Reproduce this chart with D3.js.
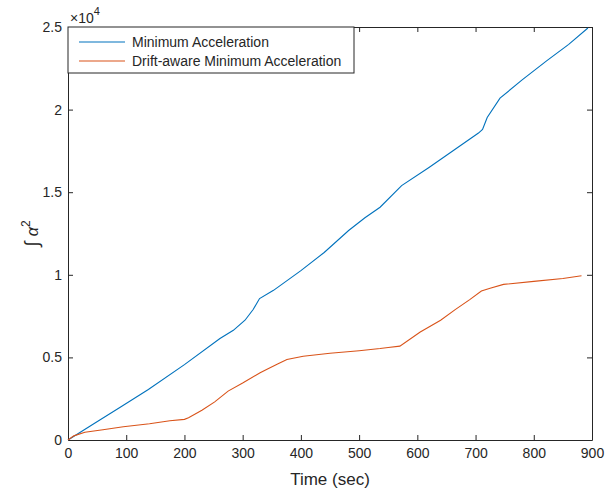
<!DOCTYPE html>
<html>
<head>
<meta charset="utf-8">
<script src="https://cdn.jsdelivr.net/npm/d3@7"></script>
<style>
  body { margin: 0; background: #fff; }
  text { font-family: "Liberation Sans", Arial, sans-serif; fill: #262626; }
</style>
</head>
<body>
<div id="vis-container"></div>
<script>
const width = 608;
const height = 494;
const margin = { top: 27, right: 16, bottom: 54, left: 68 };

// time stamps and integrated squared acceleration
const minAccTime = [0, 45, 89, 138, 200, 261, 284, 304, 318, 329, 353, 400, 440, 482, 510, 536, 573, 620, 665, 705, 712, 717, 720, 742, 780, 822, 860, 893];
const minAccValue = [0, 1000, 1970, 3060, 4560, 6140, 6640, 7250, 7900, 8560, 9060, 10250, 11350, 12680, 13450, 14090, 15400, 16500, 17600, 18580, 18800, 19250, 19520, 20690, 21800, 22950, 23950, 24940];

const driftTime = [0, 10, 29, 60, 95, 140, 175, 200, 207, 230, 252, 275, 300, 330, 341, 360, 376, 404, 450, 500, 536, 550, 570, 605, 640, 665, 690, 710, 725, 748, 800, 850, 882];
const driftValue = [0, 250, 465, 620, 805, 980, 1170, 1250, 1350, 1800, 2310, 2960, 3450, 4070, 4270, 4600, 4870, 5070, 5250, 5400, 5535, 5600, 5680, 6540, 7250, 7890, 8500, 9020, 9180, 9420, 9600, 9780, 9945];

const seriesNames = ["Minimum Acceleration", "Drift-aware Minimum Acceleration"];
const seriesColors = ["#0072BD", "#D95319"];

const xTicks = [0, 100, 200, 300, 400, 500, 600, 700, 800, 900];
const yTicks = [0, 5000, 10000, 15000, 20000, 25000];
const yTickLabels = ["0", "0.5", "1", "1.5", "2", "2.5"];

const svg = d3.select("#vis-container")
  .append("svg")
  .attr("width", width)
  .attr("height", height);

const x = d3.scaleLinear()
  .domain([0, 900])
  .range([margin.left, width - margin.right]);

const y = d3.scaleLinear()
  .domain([0, 25000])
  .range([height - margin.bottom, margin.top]);

function styleAxis(g) {
  g.select(".domain").attr("stroke", "#262626");
  g.selectAll(".tick line").attr("stroke", "#262626");
  g.selectAll(".tick text").attr("fill", "#262626");
}

// bottom axis, ticks inside
svg.append("g")
  .attr("transform", `translate(0,${height - margin.bottom})`)
  .call(d3.axisBottom(x).tickValues(xTicks).tickSizeInner(-5).tickSizeOuter(0).tickPadding(8))
  .attr("font-size", "14px")
  .attr("font-family", "Liberation Sans, Arial, sans-serif")
  .call(styleAxis);

// left axis
svg.append("g")
  .attr("transform", `translate(${margin.left},0)`)
  .call(d3.axisLeft(y).tickValues(yTicks).tickFormat((d, i) => yTickLabels[i])
        .tickSizeInner(-5).tickSizeOuter(0).tickPadding(6))
  .attr("font-size", "14px")
  .attr("font-family", "Liberation Sans, Arial, sans-serif")
  .call(styleAxis);

// top and right box lines with inward ticks
svg.append("g")
  .attr("transform", `translate(0,${margin.top})`)
  .call(d3.axisTop(x).tickValues(xTicks).tickFormat("").tickSizeInner(-5).tickSizeOuter(0))
  .call(styleAxis);

svg.append("g")
  .attr("transform", `translate(${width - margin.right},0)`)
  .call(d3.axisRight(y).tickValues(yTicks).tickFormat("").tickSizeInner(-5).tickSizeOuter(0))
  .call(styleAxis);

// exponent label
svg.append("text")
  .attr("x", margin.left + 2)
  .attr("y", margin.top - 4)
  .attr("font-size", "14px")
  .text("\u00d710")
  .append("tspan")
  .attr("dy", "-8")
  .attr("font-size", "11px")
  .text("4");

// axis titles
svg.append("text")
  .attr("x", (x(0) + x(900)) / 2)
  .attr("y", height - 9)
  .attr("text-anchor", "middle")
  .attr("font-size", "17px")
  .text("Time (sec)");

const yTitle = svg.append("text")
  .attr("transform", `translate(38,${(y(0) + y(25000)) / 2}) rotate(-90)`)
  .attr("text-anchor", "middle")
  .attr("font-size", "16px")
  .attr("font-family", "DejaVu Serif, serif");
yTitle.append("tspan").attr("font-size", "19px").attr("font-style", "italic").text("\u222b ");
yTitle.append("tspan").attr("font-style", "italic").text("\u03b1");
yTitle.append("tspan").attr("dy", "-8").attr("font-size", "12px").text("2");

// lines
const series = [
  { name: seriesNames[0], color: seriesColors[0], values: minAccTime.map((t, i) => [t, minAccValue[i]]) },
  { name: seriesNames[1], color: seriesColors[1], values: driftTime.map((t, i) => [t, driftValue[i]]) }
];

const line = d3.line()
  .x((d) => x(d[0]))
  .y((d) => y(d[1]));

svg.selectAll(".series")
  .data(series)
  .enter()
  .append("path")
  .attr("class", "series")
  .attr("d", (d) => line(d.values))
  .attr("fill", "none")
  .attr("stroke", (d) => d.color)
  .attr("stroke-width", 1.1);

// legend
const legend = svg.append("g")
  .attr("transform", `translate(${margin.left},${margin.top})`);

legend.append("rect")
  .attr("x", 0)
  .attr("y", 0)
  .attr("width", 286)
  .attr("height", 46)
  .attr("fill", "#fff")
  .attr("stroke", "#262626")
  .attr("stroke-width", 1);

const legendItems = legend.selectAll(".legend-item")
  .data(series)
  .enter()
  .append("g")
  .attr("class", "legend-item")
  .attr("transform", (d, i) => `translate(0,${15 + i * 19})`);

legendItems.append("line")
  .attr("x1", 11)
  .attr("x2", 57)
  .attr("y1", 0)
  .attr("y2", 0)
  .attr("stroke", (d) => d.color)
  .attr("stroke-width", 1.1);

legendItems.append("text")
  .attr("x", 64)
  .attr("y", 0)
  .attr("dy", "0.35em")
  .attr("font-size", "14px")
  .text((d) => d.name);
</script>
</body>
</html>
